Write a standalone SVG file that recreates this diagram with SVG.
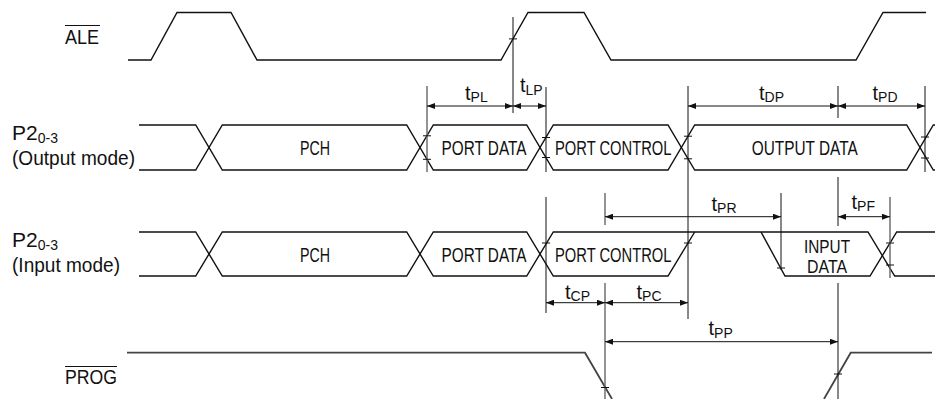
<svg xmlns="http://www.w3.org/2000/svg" width="935" height="399" viewBox="0 0 935 399">
<defs>
<style>
.sig{fill:none;stroke:#111;stroke-width:1.4}
.prog{fill:none;stroke:#444;stroke-width:1.8}
.ref{fill:none;stroke:#111;stroke-width:1}
.refg{fill:none;stroke:#666;stroke-width:1.4}
.tick{fill:none;stroke:#111;stroke-width:1}
.dim{fill:none;stroke:#111;stroke-width:1;marker-start:url(#ah);marker-end:url(#ah)}
text{font-family:"Liberation Sans Narrow","Liberation Sans",Arial,sans-serif;fill:#111}
.lbl{font-size:21px}
.box{font-size:21px}
.box2{font-size:19px}
.t{font-size:20px}
.sub{font-size:14px}
</style>
<marker id="ah" markerUnits="userSpaceOnUse" markerWidth="9" markerHeight="6" refX="8" refY="3" orient="auto-start-reverse">
<path d="M0,0 L8,3 L0,6 z" fill="#111"/>
</marker>
</defs>
<rect width="935" height="399" fill="#fff"/>

<g id="labels">
<text class="lbl" x="65" y="44" textLength="34" lengthAdjust="spacingAndGlyphs">ALE</text>
<line x1="65" y1="25.5" x2="100" y2="25.5" stroke="#111" stroke-width="1.2"/>
<text class="lbl" x="12" y="140">P2<tspan class="sub" dy="3">0-3</tspan></text>
<text class="lbl" x="12" y="164.5" textLength="123" lengthAdjust="spacingAndGlyphs">(Output mode)</text>
<text class="lbl" x="12" y="247">P2<tspan class="sub" dy="3">0-3</tspan></text>
<text class="lbl" x="12" y="271.5" textLength="108" lengthAdjust="spacingAndGlyphs">(Input mode)</text>
<text class="lbl" x="65" y="384" textLength="52" lengthAdjust="spacingAndGlyphs">PROG</text>
<line x1="65" y1="366.5" x2="117" y2="366.5" stroke="#111" stroke-width="1.2"/>
</g>

<g id="ale">
<path class="sig" d="M128,60 H151 L177,12.5 H231 L257,60 H501 L528,12.5 H584 L611,60 H856 L883,12.5 H926"/>
</g>

<g id="p2-output">
<path class="sig" d="M139,125 H195.7 L222.3,170 H406.7 L433.3,125 H526.7 L553.3,170 H668 L694.7,125 H906.7 L933.3,170 H935"/>
<path class="sig" d="M139,170 H195.7 L222.3,125 H406.7 L433.3,170 H526.7 L553.3,125 H668 L694.7,170 H906.7 L933.3,125 H935"/>
<text class="box" x="300" y="155" textLength="30" lengthAdjust="spacingAndGlyphs">PCH</text>
<text class="box" x="441.5" y="155" textLength="85" lengthAdjust="spacingAndGlyphs">PORT DATA</text>
<text class="box" x="555" y="155" textLength="116.5" lengthAdjust="spacingAndGlyphs">PORT CONTROL</text>
<text class="box" x="751.7" y="155" textLength="106" lengthAdjust="spacingAndGlyphs">OUTPUT DATA</text>
</g>

<g id="p2-input">
<path class="sig" d="M139,232 H195.7 L222.3,276 H406.7 L433.3,232 H526.7 L553.3,276 H668 L694.7,232"/>
<path class="sig" d="M139,276 H195.7 L222.3,232 H406.7 L433.3,276 H526.7 L553.3,232 H868 L894.7,276 H935"/>
<path class="sig" d="M761,232 L785,276 H870 L896.7,232 H935"/>
<text class="box" x="300" y="262" textLength="30" lengthAdjust="spacingAndGlyphs">PCH</text>
<text class="box" x="441.5" y="262" textLength="85" lengthAdjust="spacingAndGlyphs">PORT DATA</text>
<text class="box" x="555" y="262" textLength="116.5" lengthAdjust="spacingAndGlyphs">PORT CONTROL</text>
<text class="box2" x="804" y="252.5" textLength="46" lengthAdjust="spacingAndGlyphs">INPUT</text>
<text class="box2" x="807" y="273" textLength="40" lengthAdjust="spacingAndGlyphs">DATA</text>
</g>

<g id="prog">
<path class="prog" d="M127,352.7 H585 L612,399"/>
<path class="prog" d="M824,399 L850.7,352.7 H932"/>
</g>

<g id="connectors">
<line class="ref" x1="513" y1="17" x2="513" y2="113"/>
<line class="refg" x1="427" y1="86" x2="427" y2="172"/>
<line class="ref" x1="546" y1="87" x2="546" y2="172"/>
<line class="ref" x1="546" y1="197" x2="546" y2="313"/>
<line class="ref" x1="688" y1="86" x2="688" y2="319"/>
<line class="ref" x1="838" y1="86" x2="838" y2="118"/>
<line class="ref" x1="838" y1="177" x2="838" y2="226"/>
<line class="ref" x1="838" y1="283" x2="838" y2="399"/>
<line class="ref" x1="925" y1="86" x2="925" y2="172"/>
<line class="refg" x1="605" y1="193" x2="605" y2="225"/>
<line class="refg" x1="605" y1="283" x2="605" y2="399"/>
<line class="ref" x1="781" y1="193" x2="781" y2="270"/>
<line class="refg" x1="890" y1="197" x2="890" y2="278"/>

<g class="tick">
<line x1="509" y1="38.9" x2="517" y2="38.9"/>
<line x1="423" y1="135.8" x2="431" y2="135.8"/>
<line x1="423" y1="159.3" x2="431" y2="159.3"/>
<line x1="542" y1="137.5" x2="550" y2="137.5"/>
<line x1="542" y1="157.5" x2="550" y2="157.5"/>
<line x1="684" y1="136.2" x2="692" y2="136.2"/>
<line x1="684" y1="158.8" x2="692" y2="158.8"/>
<line x1="921" y1="137" x2="929" y2="137"/>
<line x1="921" y1="158" x2="929" y2="158"/>
<line x1="542" y1="243" x2="550" y2="243"/>
<line x1="684" y1="243" x2="692" y2="243"/>
<line x1="777" y1="268" x2="785" y2="268"/>
<line x1="886" y1="243" x2="894" y2="243"/>
<line x1="886" y1="265" x2="894" y2="265"/>
<line x1="601" y1="387.5" x2="609" y2="387.5"/>
<line x1="834" y1="374" x2="842" y2="374"/>
</g>

<line class="dim" x1="427" y1="106" x2="513" y2="106"/>
<line class="dim" x1="513" y1="106" x2="546" y2="106"/>
<line class="dim" x1="688" y1="106" x2="838" y2="106"/>
<line class="dim" x1="838" y1="106" x2="925" y2="106"/>
<line class="dim" x1="605" y1="216.7" x2="781" y2="216.7"/>
<line class="dim" x1="838" y1="216.7" x2="890" y2="216.7"/>
<line class="dim" x1="546" y1="302.7" x2="605" y2="302.7"/>
<line class="dim" x1="605" y1="302.7" x2="688" y2="302.7"/>
<line class="dim" x1="605" y1="341.7" x2="838" y2="341.7"/>

<text class="t" x="465" y="99.5">t<tspan class="sub" dy="2.5">PL</tspan></text>
<text class="t" x="520" y="92">t<tspan class="sub" dy="2.5">LP</tspan></text>
<text class="t" x="759" y="99.5">t<tspan class="sub" dy="2.5">DP</tspan></text>
<text class="t" x="872.5" y="99.5">t<tspan class="sub" dy="2.5">PD</tspan></text>
<text class="t" x="711.5" y="210.5">t<tspan class="sub" dy="2.5">PR</tspan></text>
<text class="t" x="851.5" y="208.5">t<tspan class="sub" dy="2.5">PF</tspan></text>
<text class="t" x="565" y="298.5">t<tspan class="sub" dy="2.5">CP</tspan></text>
<text class="t" x="636.5" y="298.5">t<tspan class="sub" dy="2.5">PC</tspan></text>
<text class="t" x="708.5" y="335">t<tspan class="sub" dy="2.5">PP</tspan></text>
</g>
</svg>
